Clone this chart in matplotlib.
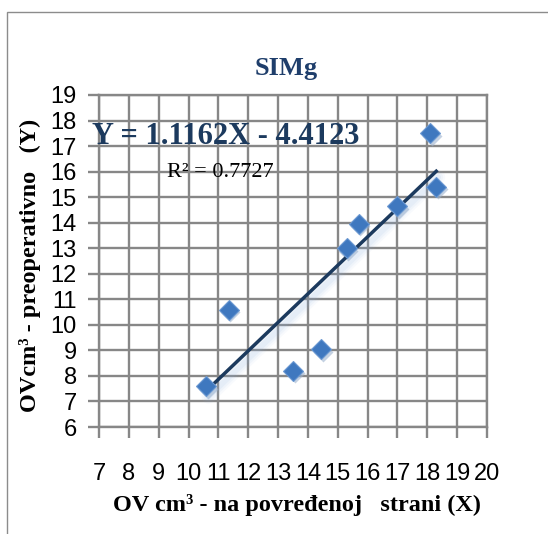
import numpy as np
import matplotlib
matplotlib.use("Agg")
import matplotlib.pyplot as plt
import matplotlib.transforms as mtransforms
from matplotlib.patches import Rectangle

# dados
ov_povredjena = [10.6, 11.35, 13.5, 14.45, 15.3, 15.7, 17.0, 18.1, 18.3]
ov_preop = [7.6, 10.6, 8.2, 9.05, 13.0, 13.95, 14.65, 17.5, 15.4]
nagib = 1.1162
presjek = -4.4123
r2 = 0.7727

x_ticks = list(range(7, 21))
y_ticks = list(range(6, 20))

serif = "Liberation Serif"
sans = "Liberation Sans"
grid_col = "#878787"
navy = "#1C3A5E"

fig = plt.figure(figsize=(5.48, 5.34), dpi=100)
fig.patch.set_facecolor("white")

# okvir grafikona
fig.patches.append(Rectangle((7 / 548, -0.2), 1.3, 1.2 - 12 / 534,
                             transform=fig.transFigure, fill=False,
                             edgecolor="#8C8C8C", lw=1.0))

ax = fig.add_axes([99 / 548, 1 - 427 / 534, 388 / 548, 332 / 534])
ax.set_xlim(7, 20)
ax.set_ylim(6, 19)
ax.set_xticks(x_ticks)
ax.set_yticks(y_ticks)
ax.grid(True, color=grid_col, lw=1.7)
ax.set_axisbelow(True)
for s in ax.spines.values():
    s.set_color(grid_col)
    s.set_linewidth(1.7)
ax.tick_params(axis="both", color=grid_col, width=1.7, length=8, direction="out",
               labelsize=17, labelcolor="black")
ax.tick_params(axis="x", pad=18)
ax.tick_params(axis="y", pad=8)
for lab in ax.get_xticklabels() + ax.get_yticklabels():
    lab.set_fontfamily(sans)

# linija trenda
xs = np.array([min(ov_povredjena), max(ov_povredjena)])
ys = nagib * xs + presjek
for k, a in [(10, 0.06), (7, 0.08), (4, 0.1)]:
    sh = mtransforms.offset_copy(ax.transData, fig=fig, x=2, y=-6, units="dots")
    ax.plot(xs, ys, color="#8FB0DE", lw=k, alpha=a, transform=sh,
            solid_capstyle="round", zorder=2)
ax.plot(xs, ys, color=navy, lw=2.5, zorder=4)

# tacke sa sjenkom
sh = mtransforms.offset_copy(ax.transData, fig=fig, x=1.5, y=-2.5, units="dots")
ax.plot(ov_povredjena, ov_preop, "D", ms=10.5, color="#9DB3CF", alpha=0.6,
        mec="none", transform=sh, zorder=3)
ax.plot(ov_povredjena, ov_preop, "D", ms=10, color="#3F78BF", mec="#6A98D2",
        mew=0.8, zorder=5)

ax.text(-0.018, 0.874, f"Y = {nagib}X - {abs(presjek)}", transform=ax.transAxes,
        fontsize=22, fontweight="bold", family=serif, color=navy,
        ha="left", va="center", zorder=6)
ax.text(0.175, 0.768, f"R² = {r2}", transform=ax.transAxes, fontsize=16,
        family=serif, color="black", ha="left", va="center", zorder=6)

fig.text(286 / 548, 1 - 68 / 534, "SIMg", fontsize=19, fontweight="bold",
         family=serif, color="#1F3E6B", ha="center", va="center")
fig.text(297 / 548, 1 - 505 / 534, "OV cm³ - na povređenoj   strani (X)",
         fontsize=17.5, fontweight="bold", family=serif, ha="center", va="center")
fig.text(30 / 548, 1 - 265 / 534, "OVcm³ - preoperativno   (Y)", rotation=90,
         fontsize=17.5, fontweight="bold", family=serif, ha="center", va="center")

fig.savefig("out.png", dpi=100)
